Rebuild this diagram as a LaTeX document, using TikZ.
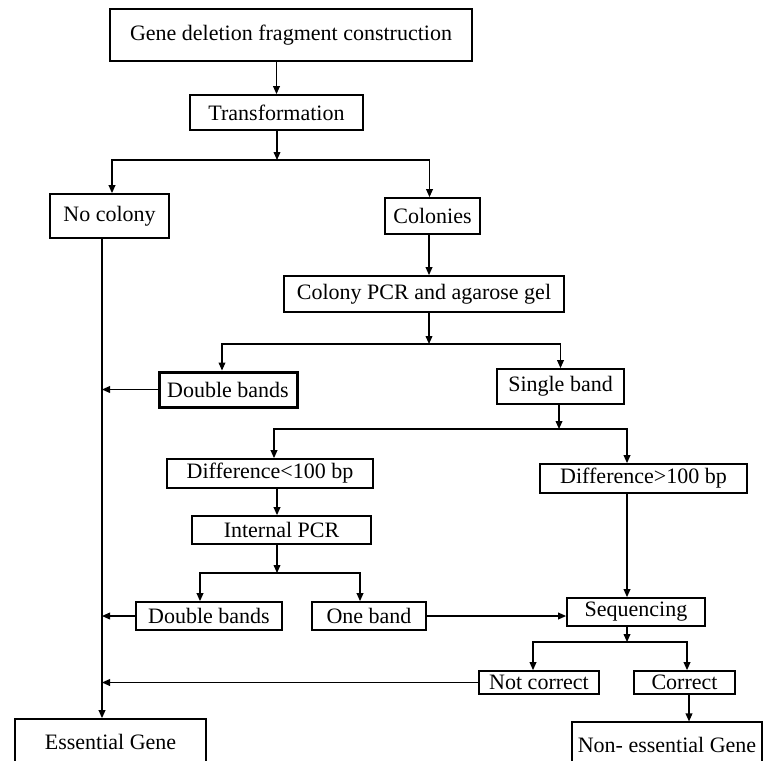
\documentclass[tikz,border=0pt]{standalone}
\usepackage{fontspec}
\setmainfont{Liberation Serif}
\usetikzlibrary{positioning,arrows.meta,calc}
\tikzset{
	>={Triangle[length=4pt,width=3.4pt]}
}

\begin{document}
\begin{tikzpicture}[
x = 0.5pt,
y = -0.5pt,
every node/.style = {
	font = \fontsize{11}{13}\selectfont
},
stage/.style = {
	draw,
	line width = 0.9pt,
	inner sep = 0pt,
	align = center
},
bold stage/.style = {
	stage,
	line width = 1.5pt
},
flow/.style = {
	->,
	line width = 0.6pt
}
]
\path[use as bounding box, clip] (0,0) rectangle (763,760);

\node [stage, minimum width=181pt, minimum height=26pt] (gdfc) at (291,35) {Gene deletion fragment construction};
\node [stage, minimum width=86.5pt, minimum height=17.5pt] (trans) at (276.5,112.5) {Transformation};

\node [stage, minimum width=59.5pt, minimum height=22pt] (nocol) at (109.5,216) {No colony};
\node [stage, minimum width=47.5pt, minimum height=18pt] (colonies) at (432.5,216) {Colonies};
\node [stage, minimum width=140pt, minimum height=18pt] (cpcr) at (424,294) {Colony PCR and agarose gel};

\node [bold stage, minimum width=69pt, minimum height=17.5pt] (dbl1) at (228,389.5) {Double bands};
\node [stage, minimum width=63.5pt, minimum height=17.5pt] (single) at (560.5,386.5) {Single band};

\node [stage, minimum width=103pt, minimum height=14.5pt] (dless) at (270,473.5) {Difference<100 bp};
\node [stage, minimum width=103.5pt, minimum height=14.5pt] (dmore) at (643.5,478.5) {Difference>100 bp};
\node [stage, minimum width=89.5pt, minimum height=14pt] (ipcr) at (281.5,530) {Internal PCR};

\node [stage, minimum width=73pt, minimum height=14pt] (dbl2) at (209,616) {Double bands};
\node [stage, minimum width=57pt, minimum height=14pt] (oneband) at (369,616) {One band};
\node [stage, minimum width=69pt, minimum height=14pt] (seq) at (636,612) {Sequencing};

\node [stage, minimum width=60pt, minimum height=11.5pt] (notcor) at (539,682.5) {Not correct};
\node [stage, minimum width=50.5pt, minimum height=11.5pt] (correct) at (684.5,682.5) {Correct};

\node [stage, minimum width=95.5pt, minimum height=23pt] (ess) at (110.5,742) {Essential Gene};
\node [stage, line width=0.6pt, minimum width=95pt, minimum height=23pt] (noness) at (667,745) {Non- essential Gene};

% split points and the left return line
\coordinate (split1) at (277,160);
\coordinate (split2) at (429,344);
\coordinate (split3) at (559,429);
\coordinate (split4) at (277,573);
\coordinate (split5) at (627,642);
\coordinate (spine) at (102,238);

\draw[flow] (gdfc.south -| trans.north) -- (trans.north);
\draw[flow] (trans.south -| split1) -- (split1);
\draw[flow] (split1) -| ([xshift=1.25pt]nocol.north);
\draw[flow] (split1) -| ([xshift=-1.5pt]colonies.north);
\draw[flow] (colonies.south -| split2) -- (cpcr.north -| split2);
\draw[flow] (cpcr.south -| split2) -- (split2);
\draw[flow] (split2) -| ([xshift=-3pt]dbl1.north);
\draw[flow] (split2) -| (single.north);
\draw[flow] (dbl1.west) -- (dbl1.west -| spine);

\draw[flow] (single.south -| split3) -- (split3);
\draw[flow] (split3) -| ([xshift=2pt]dless.north);
\draw[flow] (split3) -| (dmore.north -| split5);
\draw[flow] (dmore.south -| split5) -- (seq.north -| split5);
\draw[flow] (dless.south -| split4) -- (ipcr.north -| split4);
\draw[flow] (ipcr.south -| split4) -- (split4);
\draw[flow] (split4) -| ([xshift=-4.5pt]dbl2.north);
\draw[flow] (split4) -| ([xshift=-4.5pt]oneband.north);
\draw[flow] (dbl2.west) -- (dbl2.west -| spine);
\draw[flow] (oneband.east) -- (oneband.east -| seq.west);

\draw[flow] (seq.south -| split5) -- (split5);
\draw[flow] (split5) -| ([xshift=-3pt]notcor.north);
\draw[flow] (split5) -| ([xshift=1.25pt]correct.north);
\draw[flow] (notcor.west) -- (notcor.west -| spine);
\draw[flow] ([xshift=2.25pt]correct.south) -- ([xshift=2.25pt]correct.south |- noness.north);
\draw[flow] (spine) -- (spine |- ess.north);

\end{tikzpicture}
\end{document}
